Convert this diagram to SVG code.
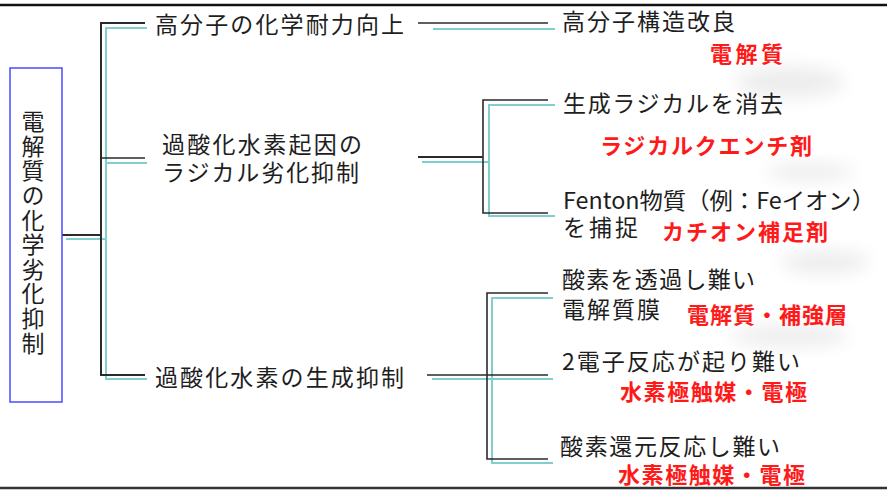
<svg xmlns="http://www.w3.org/2000/svg" width="887" height="491" viewBox="0 0 887 491">
<defs>
<filter id="blur" x="-50%" y="-50%" width="200%" height="200%"><feGaussianBlur stdDeviation="9"/></filter>
</defs>
<style>
.t{font-family:"Noto Sans CJK JP","Noto Sans",sans-serif;font-size:23px;fill:#1e1e1e}
.r{font-family:"Noto Sans CJK JP","Noto Sans",sans-serif;font-size:22px;font-weight:bold;fill:#ff1a1a}
.v{font-family:"Noto Sans CJK JP","Noto Sans",sans-serif;font-size:23px;fill:#1e1e1e;writing-mode:vertical-rl;letter-spacing:1.6px}
.k{stroke:#2a2a2a;stroke-width:1.6;fill:none}
.c{stroke:#7fcfcf;stroke-width:2;fill:none}
.smudge{fill:#000;opacity:0.07;filter:url(#blur)}
</style>
<rect x="0" y="0" width="887" height="491" fill="#ffffff"/>
<g id="frame">
<line x1="0" y1="5" x2="887" y2="5" stroke="#111" stroke-width="2.5"/>
<line x1="0" y1="488" x2="887" y2="488" stroke="#333" stroke-width="2.5"/>
</g>
<g id="shadows">
<ellipse class="smudge" cx="790" cy="82" rx="55" ry="16"/>
<ellipse class="smudge" cx="810" cy="172" rx="45" ry="9"/>
<ellipse class="smudge" cx="825" cy="262" rx="45" ry="12"/>
<ellipse class="smudge" cx="790" cy="336" rx="60" ry="11"/>
</g>
<g id="connectors">
<polyline class="c" points="66,239 106,239"/>
<polyline class="c" points="147,28 106,28 106,379 147,379"/>
<polyline class="c" points="106,163 147,163"/>
<polyline class="k" points="62,235 101,235" style="stroke-width:2"/>
<polyline class="k" points="145,23 101,23 101,375 145,375" style="stroke-width:2"/>
<polyline class="k" points="101,158 145,158"/>
<polyline class="c" points="433,29 555,29"/>
<polyline class="k" points="418,23 548,23"/>
<polyline class="c" points="422,162 489,162"/>
<polyline class="c" points="555,105 489,105 489,216 555,216"/>
<polyline class="k" points="418,157 483,157" style="stroke-width:2.2"/>
<polyline class="k" points="548,100 483,100 483,213 548,213"/>
<polyline class="c" points="432,379 553,379"/>
<polyline class="c" points="553,298 492,298 492,463 553,463"/>
<polyline class="k" points="427,375 548,375"/>
<polyline class="k" points="548,293 487,293 487,459 548,459"/>
</g>
<g id="root">
<rect x="10" y="68" width="52" height="334" fill="#fff" stroke="#4a4aff" stroke-width="1.5"/>
<text class="v" x="33" y="110">電解質の化学劣化抑制</text>
</g>
<g id="n1">
<text class="t" x="155" y="33" textLength="249" lengthAdjust="spacing">高分子の化学耐力向上</text>
</g>
<g id="n2">
<text class="t" x="162" y="153" textLength="200" lengthAdjust="spacing">過酸化水素起因の</text>
<text class="t" x="162" y="181" textLength="197" lengthAdjust="spacing">ラジカル劣化抑制</text>
</g>
<g id="n3">
<text class="t" x="155" y="386" textLength="249" lengthAdjust="spacing">過酸化水素の生成抑制</text>
</g>
<g id="n11">
<text class="t" x="562" y="30" textLength="173" lengthAdjust="spacing">高分子構造改良</text>
<text class="r" x="710" y="62" textLength="73" lengthAdjust="spacing">電解質</text>
</g>
<g id="n21">
<text class="t" x="563" y="112" textLength="220" lengthAdjust="spacing">生成ラジカルを消去</text>
<text class="r" x="600" y="154" textLength="212" lengthAdjust="spacing">ラジカルクエンチ剤</text>
</g>
<g id="n22">
<text class="t" x="563" y="209" textLength="312" lengthAdjust="spacingAndGlyphs">Fenton物質（例：Feイオン）</text>
<text class="t" x="563" y="236" textLength="75" lengthAdjust="spacing">を捕捉</text>
<text class="r" x="662" y="240" textLength="166" lengthAdjust="spacing">カチオン補足剤</text>
</g>
<g id="n31">
<text class="t" x="562" y="288" textLength="193" lengthAdjust="spacing">酸素を透過し難い</text>
<text class="t" x="562" y="318" textLength="98" lengthAdjust="spacing">電解質膜</text>
<text class="r" x="687" y="323" textLength="160" lengthAdjust="spacing">電解質・補強層</text>
</g>
<g id="n32">
<text class="t" x="562" y="370" textLength="238" lengthAdjust="spacing">2電子反応が起り難い</text>
<text class="r" x="620" y="400" textLength="187" lengthAdjust="spacing">水素極触媒・電極</text>
</g>
<g id="n33">
<text class="t" x="560" y="455" textLength="220" lengthAdjust="spacing">酸素還元反応し難い</text>
<text class="r" x="618" y="483" textLength="187" lengthAdjust="spacing">水素極触媒・電極</text>
</g>
</svg>
